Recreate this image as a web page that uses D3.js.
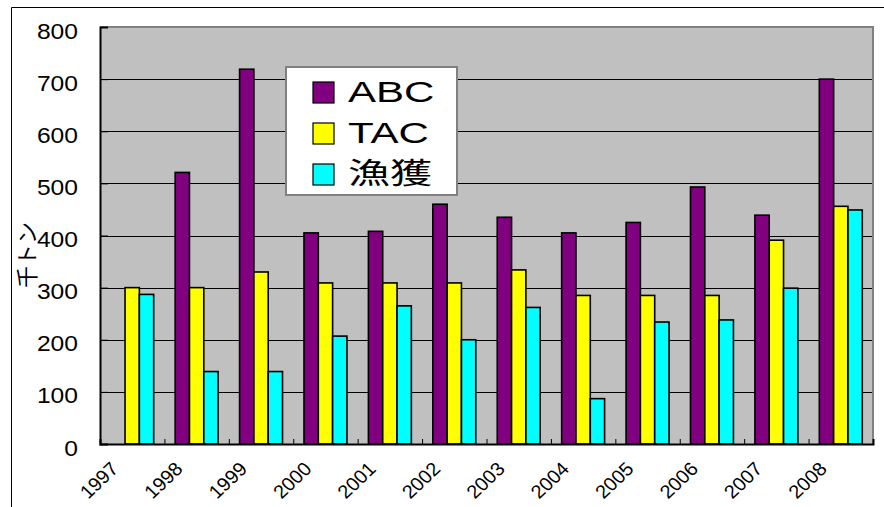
<!DOCTYPE html>
<html>
<head>
<meta charset="utf-8">
<script src="https://cdn.jsdelivr.net/npm/d3@7"></script>
<style>
  html, body { margin: 0; padding: 0; background: #fff; }
  svg { display: block; }
  text { font-family: "Liberation Sans", Arial, sans-serif; fill: #000; }
</style>
</head>
<body>
<svg id="chart" width="884" height="507"></svg>
<script>
// Annual ABC, TAC and catch (thousand tonnes)
const years = ["1997", "1998", "1999", "2000", "2001", "2002", "2003", "2004", "2005", "2006", "2007", "2008"];
const abcValues = [null, 521, 719, 405, 408, 460, 435, 405, 425, 493, 439, 700];
const tacValues = [300, 300, 330, 309, 309, 309, 334, 285, 285, 285, 391, 456];
const catchValues = [287, 139, 139, 207, 265, 200, 262, 87, 234, 238, 299, 449];
const seriesNames = ["ABC", "TAC", "漁獲"];
const seriesColors = ["#800080", "#ffff00", "#00ffff"];
const yTicks = [0, 100, 200, 300, 400, 500, 600, 700, 800];
const yTitle = "千トン";

const series = [abcValues, tacValues, catchValues];

const svg = d3.select("#chart");
const plot = { left: 100, right: 873, top: 27, bottom: 444 };

// outer chart frame (top and left edges)
svg.append("path")
  .attr("d", "M11.5,507 V7.5 H884")
  .attr("fill", "none").attr("stroke", "#000").attr("stroke-width", 1);

const x0 = d3.scaleBand().domain(years).range([plot.left, plot.right]).paddingInner(0).paddingOuter(0);
const x1 = d3.scaleBand().domain(seriesNames).range([0, x0.bandwidth()]).paddingInner(0).paddingOuter(0.75);
const xEdge = d3.scaleLinear().domain([0, years.length]).range([plot.left, plot.right]);
const y = d3.scaleLinear().domain([0, 800]).range([plot.bottom, plot.top]);

// plot background
svg.append("rect")
  .attr("x", plot.left).attr("y", plot.top)
  .attr("width", plot.right - plot.left).attr("height", plot.bottom - plot.top)
  .attr("fill", "#c0c0c0");

// horizontal grid lines
svg.append("g").selectAll("line")
  .data(yTicks.filter(v => v > 0 && v < 800))
  .join("line")
  .attr("x1", plot.left).attr("x2", plot.right)
  .attr("y1", d => Math.round(y(d)) + 0.5).attr("y2", d => Math.round(y(d)) + 0.5)
  .attr("stroke", "#000").attr("stroke-width", 1);

// plot border on top and right
svg.append("path")
  .attr("d", `M${plot.left},${plot.top} H${plot.right} V${plot.bottom}`)
  .attr("fill", "none").attr("stroke", "#808080").attr("stroke-width", 2);

// bars
const groups = svg.append("g").selectAll("g")
  .data(years)
  .join("g")
  .attr("transform", d => `translate(${x0(d)},0)`);

groups.selectAll("rect")
  .data((d, i) => series.map((s, k) => ({ key: seriesNames[k], k, v: s[i] })).filter(e => e.v != null))
  .join("rect")
  .attr("x", d => x1(d.key))
  .attr("y", d => y(d.v))
  .attr("width", x1.bandwidth())
  .attr("height", d => y(0) - y(d.v))
  .attr("fill", d => seriesColors[d.k])
  .attr("stroke", "#000")
  .attr("stroke-width", 1.6);

// y axis
const yAxis = svg.append("g")
  .attr("transform", `translate(${plot.left},0)`)
  .call(d3.axisLeft(y).tickValues(yTicks).tickSize(-8).tickPadding(0).tickFormat(d3.format("d")));
yAxis.select(".domain").attr("stroke", "#000").attr("stroke-width", 2);
yAxis.selectAll(".tick line").attr("stroke", "#000");
yAxis.selectAll(".tick text")
  .attr("x", 0).attr("dy", "0.32em")
  .attr("transform", "translate(-22,4) scale(1.12,1)")
  .style("font-size", "22px")
  .attr("font-family", null);

// x axis with ticks on category boundaries
const xAxis = svg.append("g")
  .attr("transform", `translate(0,${plot.bottom})`)
  .call(d3.axisBottom(xEdge)
    .tickValues(d3.range(0, years.length + 1))
    .tickSize(-5)
    .tickFormat(i => years[i] || ""));
xAxis.select(".domain").attr("stroke", "#000").attr("stroke-width", 2);
xAxis.selectAll(".tick text")
  .attr("y", 0).attr("dy", 0)
  .attr("text-anchor", "end")
  .attr("transform", "translate(19,26) scale(1.05,1) rotate(-45)")
  .style("font-size", "19px")
  .attr("font-family", null);
xAxis.selectAll(".tick line").attr("stroke", "#000");

// y axis title
svg.append("text")
  .attr("transform", "translate(27,255) rotate(-90)")
  .attr("text-anchor", "middle")
  .attr("dy", "0.35em")
  .style("font-family", "'Noto Sans CJK JP', sans-serif")
  .style("font-size", "22px")
  .text(yTitle);

// legend
const legend = svg.append("g").attr("transform", "translate(286,67)");
legend.append("rect")
  .attr("width", 171).attr("height", 128)
  .attr("fill", "#fff").attr("stroke", "#808080").attr("stroke-width", 2);
const rowY = [25, 66, 107];
const items = legend.selectAll("g.item")
  .data(seriesNames)
  .join("g").attr("class", "item")
  .attr("transform", (d, i) => `translate(0,${rowY[i]})`);
items.append("rect")
  .attr("x", 27).attr("y", -10)
  .attr("width", 21).attr("height", 21)
  .attr("fill", (d, i) => seriesColors[i])
  .attr("stroke", "#000").attr("stroke-width", 1.2);
items.append("text")
  .attr("transform", "translate(62,0) scale(1.45,1)")
  .attr("dy", "0.36em")
  .style("font-size", "29px")
  .style("font-family", (d, i) => i === 2 ? "'Noto Sans CJK JP', sans-serif" : "'Liberation Sans', Arial, sans-serif")
  .text(d => d);
</script>
</body>
</html>
